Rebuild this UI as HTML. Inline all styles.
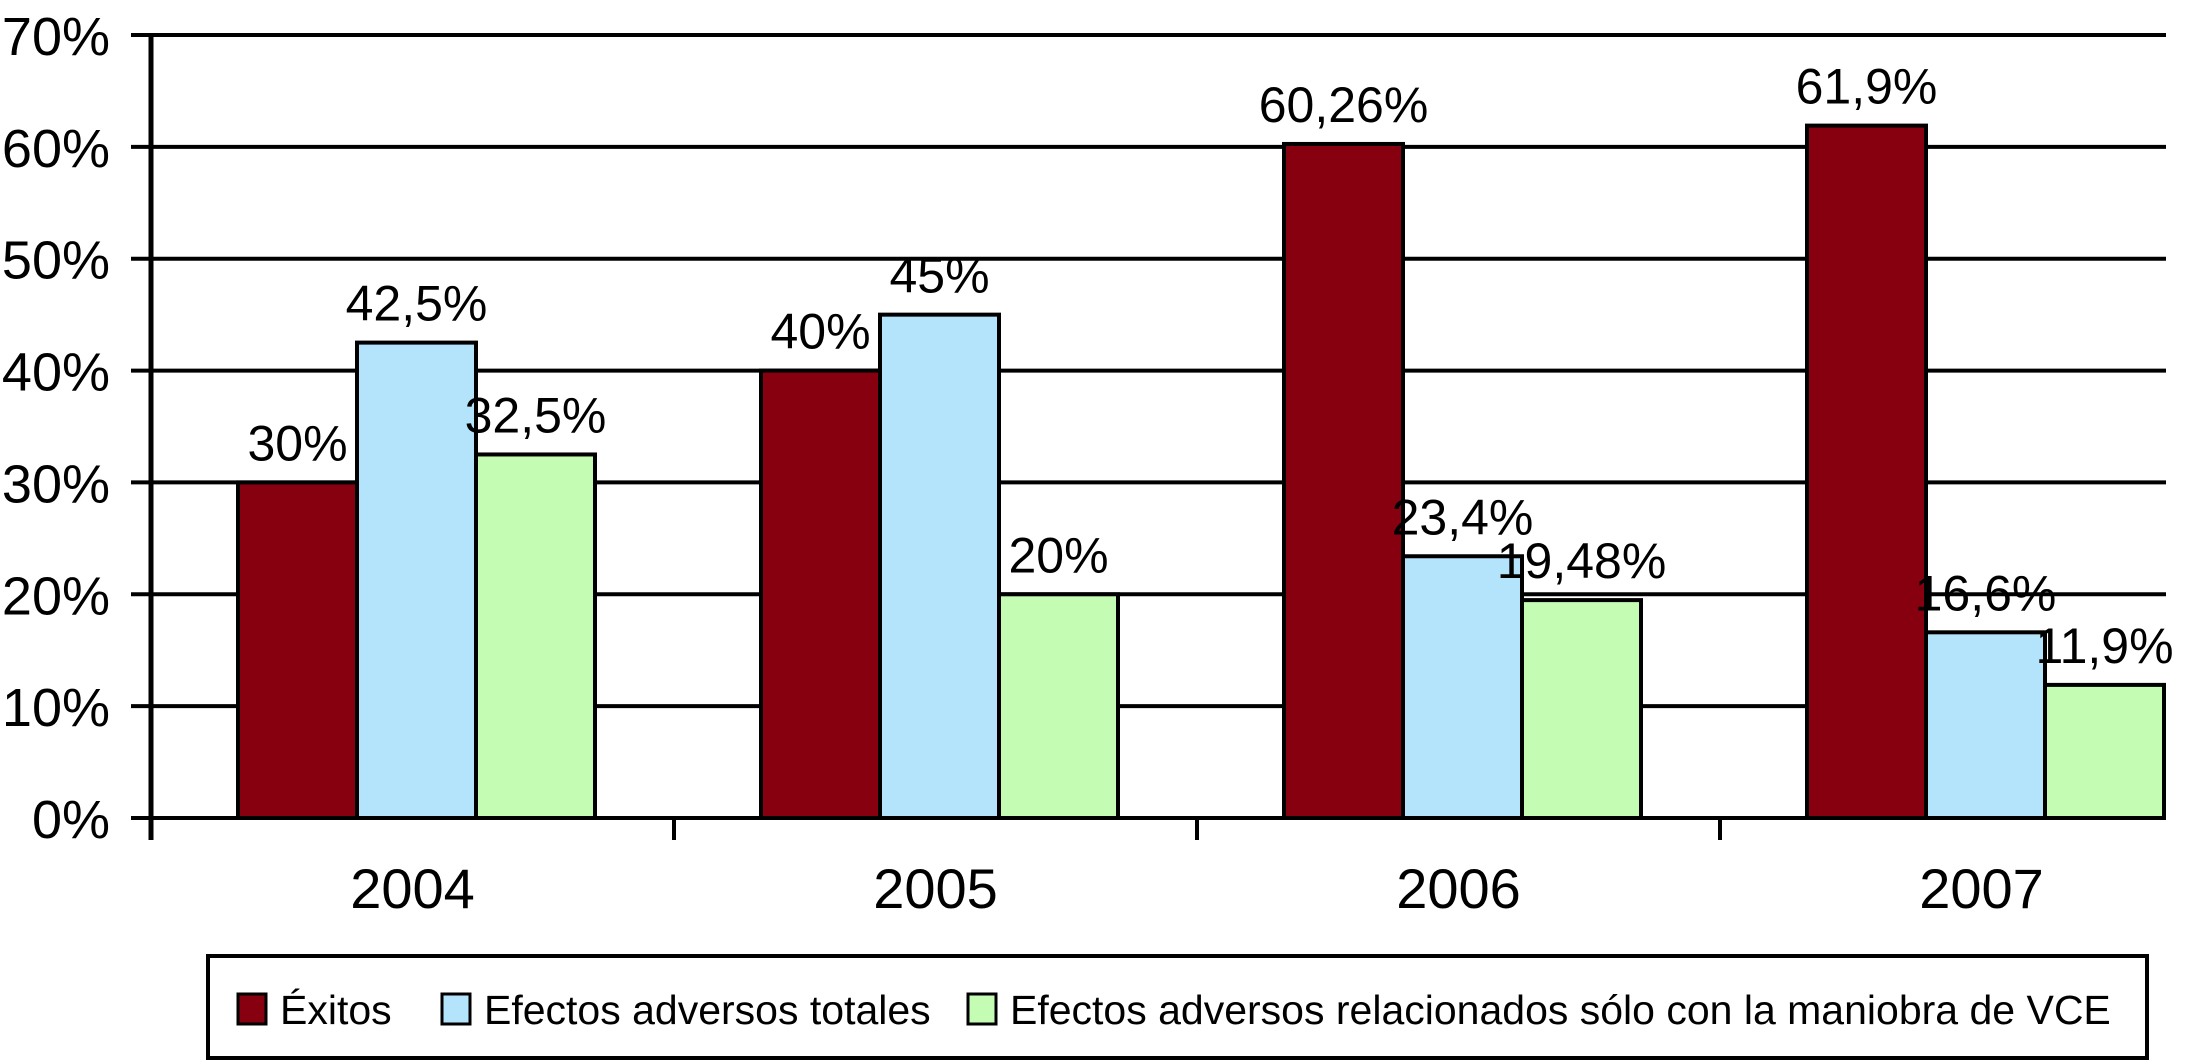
<!DOCTYPE html>
<html><head><meta charset="utf-8"><style>
body{margin:0;background:#fff;}
svg{display:block;font-family:"Liberation Sans",sans-serif;}
</style></head><body>
<svg id="chart" width="2194" height="1062"></svg>
<script>
const categories=["2004","2005","2006","2007"];
const exitos=[30,40,60.26,61.9];
const totales=[42.5,45,23.4,16.6];
const relacionados=[32.5,20,19.48,11.9];
const exitosLabels=["30%","40%","60,26%","61,9%"];
const totalesLabels=["42,5%","45%","23,4%","16,6%"];
const relLabels=["32,5%","20%","19,48%","11,9%"];
const yTicks=[0,10,20,30,40,50,60,70];

const NS="http://www.w3.org/2000/svg";
const svg=document.getElementById('chart');
const X0=151,X1=2166,Y0=818,Y70=35;
const catW=523;
function y(v){return Y0-(v/70)*(Y0-Y70);}
function catX(i){return X0+i*catW;}
function mk(t,a,txt){const e=document.createElementNS(NS,t);for(const k in a)e.setAttribute(k,a[k]);if(txt!==undefined)e.textContent=txt;svg.appendChild(e);return e;}

yTicks.forEach(t=>{
  const l=mk('line',{x1:X0-20,x2:X1,y1:y(t),y2:y(t),stroke:'#000','stroke-width':4});
  
  
  const tx=mk('text',{x:110,y:y(t)+20,'font-size':54,'text-anchor':'end'},t+'%');
  
  
});
const ax=mk('line',{x1:X0,x2:X0,y1:Y70-2,y2:Y0+22,stroke:'#000','stroke-width':5});


for(let i=1;i<categories.length;i++){
  const tk=mk('line',{x1:catX(i),x2:catX(i),y1:Y0,y2:Y0+22,stroke:'#000','stroke-width':4});
  
  
}
const series=[[exitos,exitosLabels,'#870010','exitos'],[totales,totalesLabels,'#b4e4fc','totales'],[relacionados,relLabels,'#c4fcb4','relacionados']];
const off=87,bw=119;
categories.forEach((c,i)=>{
  series.forEach((s,j)=>{
    const x=catX(i)+off+j*bw,v=s[0][i];
    const r=mk('rect',{x:x,y:y(v),width:bw,height:Y0-y(v),fill:s[2],stroke:'#000','stroke-width':4});
    
    
    const t=mk('text',{x:x+bw/2,y:y(v)-22,'font-size':50,'text-anchor':'middle'},s[1][i]);
    
    
  });
  const cl=mk('text',{x:catX(i)+catW/2,y:908,'font-size':56,'text-anchor':'middle'},c);
  
  
});
const lb=mk('rect',{x:208,y:956,width:1939,height:102,fill:'#fff',stroke:'#000','stroke-width':4});


const leg=[['#870010','Éxitos',238],['#b4e4fc','Efectos adversos totales',442],['#c4fcb4','Efectos adversos relacionados sólo con la maniobra de VCE',968]];
leg.forEach((l,k)=>{
  const sw=mk('rect',{x:l[2],y:994,width:28,height:30,fill:l[0],stroke:'#000','stroke-width':3});
  
  
  const t=mk('text',{x:l[2]+42,y:1024,'font-size':41},l[1]);
  
  
});
</script>
</body></html>
